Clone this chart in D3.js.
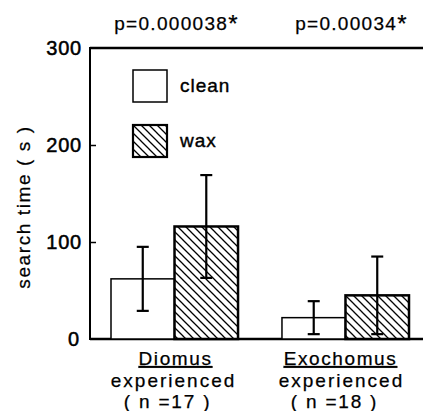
<!DOCTYPE html>
<html><head><meta charset="utf-8">
<script src="https://cdn.jsdelivr.net/npm/d3@7"></script>
<style>body{margin:0;background:#fff}svg{display:block}text{font-family:"Liberation Sans",Arial,sans-serif;fill:#000;stroke:#000;stroke-width:0.25px}</style>
</head><body><svg id="c" width="423" height="411"></svg>
<script>
const groups = ["Diomus", "Exochomus"];
const groupLine2 = ["experienced", "experienced"];
const groupLine3 = ["( n =17 )", "( n =18 )"];
const series = ["clean", "wax"];
const cleanMean = [62, 22];
const cleanErr = [33, 17];
const waxMean = [116, 45];
const waxErr = [53, 40];
const pValues = ["p=0.000038", "p=0.00034"];
const yTicks = [0, 100, 200, 300];
const yTitle = "search time ( s )";

const svg = d3.select("#c");
const W = 423, H = 411;
const y = d3.scaleLinear().domain([0, 300]).range([339, 48]);
const x0 = d3.scaleBand().domain(groups).range([111, 409]).paddingInner(0.257).paddingOuter(0);
const x1 = d3.scaleBand().domain(series).range([0, x0.bandwidth()]);

const defs = svg.append("defs");
const pat = defs.append("pattern").attr("id","hatch").attr("patternUnits","userSpaceOnUse")
  .attr("width",8).attr("height",8);
pat.append("rect").attr("width",8).attr("height",8).attr("fill","#fff");
pat.append("path").attr("d","M-2,-2 L10,10 M-2,6 L2,10 M6,-2 L10,2").attr("stroke","#000").attr("stroke-width",1.3);

// axes frame
svg.append("line").attr("x1",90).attr("x2",W).attr("y1",y(300)).attr("y2",y(300)).attr("stroke","#000").attr("stroke-width",2.5);
svg.append("line").attr("x1",90).attr("x2",W).attr("y1",y(0)).attr("y2",y(0)).attr("stroke","#000").attr("stroke-width",2.5);
svg.append("line").attr("x1",90).attr("x2",90).attr("y1",y(300)-1).attr("y2",y(0)+1).attr("stroke","#000").attr("stroke-width",2);

const yAxis = d3.axisRight(y).tickValues([100,200]).tickSize(6).tickFormat("");
const ga = svg.append("g").attr("transform","translate(90,0)").call(yAxis);
ga.select(".domain").remove();
ga.selectAll("line").attr("stroke-width",1.5);

svg.selectAll(".ytl").data(yTicks).join("text").attr("class","ytl")
  .attr("x",d=> d===0 ? 80 : 82).attr("y",d=>y(d)+7).attr("text-anchor","end")
  .attr("font-size",20).attr("letter-spacing",0.8).style("stroke-width","0.5px").text(d=>d);

svg.append("text").attr("transform","translate(30,207) rotate(-90)").attr("text-anchor","middle")
  .attr("font-size",19).attr("letter-spacing",1.6).text(yTitle);

// bars
const data = groups.map((g,i)=>({g, vals:[{s:"clean",m:cleanMean[i],e:cleanErr[i]},{s:"wax",m:waxMean[i],e:waxErr[i]}]}));
const gg = svg.selectAll(".grp").data(data).join("g").attr("transform",d=>`translate(${x0(d.g)},0)`);
gg.selectAll("rect").data(d=>d.vals).join("rect")
  .attr("x",d=>x1(d.s)).attr("width",x1.bandwidth())
  .attr("y",d=>y(d.m)).attr("height",d=>y(0)-y(d.m))
  .attr("fill",d=>d.s==="wax"?"url(#hatch)":"#fff")
  .attr("stroke","#000").attr("stroke-width",d=>d.s==="wax"?2.5:1.5);
const eb = gg.selectAll(".eb").data(d=>d.vals).join("g").attr("class","eb");
const cx = d=>x1(d.s)+x1.bandwidth()/2;
eb.append("line").attr("x1",cx).attr("x2",cx)
  .attr("y1",d=>y(d.m+d.e)).attr("y2",d=>y(Math.max(d.m-d.e,0))).attr("stroke","#000").attr("stroke-width",2.2);
eb.append("line").attr("x1",d=>cx(d)-6).attr("x2",d=>cx(d)+6)
  .attr("y1",d=>y(d.m+d.e)).attr("y2",d=>y(d.m+d.e)).attr("stroke","#000").attr("stroke-width",2.2);
eb.append("line").attr("x1",d=>cx(d)-6).attr("x2",d=>cx(d)+6)
  .attr("y1",d=>y(Math.max(d.m-d.e,0))).attr("y2",d=>y(Math.max(d.m-d.e,0))).attr("stroke","#000").attr("stroke-width",2.2);

// p values
const pv = svg.selectAll(".pv").data(pValues).join("text").attr("class","pv")
  .attr("x",(d,i)=>x0(groups[i])+x0.bandwidth()/2+ (i===0?2:6)).attr("y",30).attr("text-anchor","middle")
  .attr("font-size",19).attr("letter-spacing",1.3);
pv.append("tspan").text(d=>d);
pv.append("tspan").attr("font-size",24).attr("dy",2).text("*");

// x labels
const lab = svg.selectAll(".xl").data(groups).join("g").attr("class","xl")
  .attr("transform",(d)=>`translate(${x0(d)+x0.bandwidth()/2},0)`);
lab.append("text").attr("x",(d,i)=>i===0?1:-5).attr("y",365).attr("text-anchor","middle").attr("font-size",19).attr("letter-spacing",1.6)
  .attr("text-decoration","underline").text(d=>d);
lab.append("text").attr("x",(d,i)=>i===0?-1:-4).attr("y",387).attr("text-anchor","middle").attr("font-size",19).attr("letter-spacing",2).text((d,i)=>groupLine2[i]);
lab.append("text").attr("x",(d,i)=>i===0?-7:-11).attr("y",408).attr("text-anchor","middle").attr("font-size",19).attr("letter-spacing",1.8).text((d,i)=>groupLine3[i]);

// legend
const leg = svg.selectAll(".lg").data(series).join("g").attr("class","lg")
  .attr("transform",(d,i)=>`translate(133,${70+i*55})`);
leg.append("rect").attr("width",34).attr("height",32).attr("fill",d=>d==="wax"?"url(#hatch)":"#fff")
  .attr("stroke","#000").attr("stroke-width",d=>d==="wax"?2.2:1.5);
leg.append("text").attr("x",47).attr("y",22).attr("font-size",19).attr("letter-spacing",1).style("stroke-width","0.4px").text(d=>d);
</script></body></html>
